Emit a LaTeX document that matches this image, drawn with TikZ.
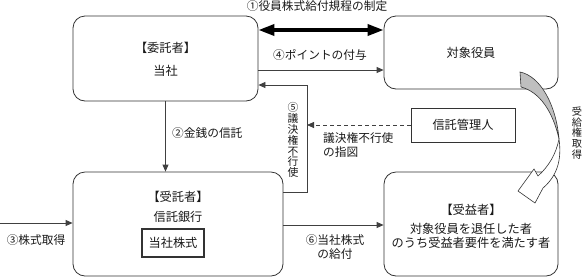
\documentclass[tikz,border=0pt]{standalone}
\usepackage{fontspec}
\setmainfont{Noto Sans CJK JP}
\usetikzlibrary{arrows.meta}
\begin{document}
\begin{tikzpicture}[x=1pt,y=-1pt,
  rbox/.style={draw=black!80, line width=0.8pt, rounded corners=12pt, fill=white, inner sep=0pt},
  pbox/.style={draw=black!80, line width=0.8pt, fill=white, inner sep=0pt},
  conn/.style={draw=black!75, line width=0.8pt, -{Triangle[length=7pt,width=6pt]}},
  bigconn/.style={draw=black, line width=3.5pt, {Triangle[length=16pt,width=11pt]}-{Triangle[length=16pt,width=11pt]}},
  txt/.style={font=\fontsize{12.2}{13.5}\selectfont, inner sep=0pt, text=black!90},
  lbl/.style={font=\fontsize{11.7}{14}\selectfont, inner sep=0pt, text=black!90},
  vtxt/.style={font=\fontsize{10.8}{10.9}\selectfont, inner sep=0pt, align=center, text=black!90}
]
\useasboundingbox (0,0) rectangle (583,277);

% boxes
\node[rbox, minimum width=185pt, minimum height=85pt] (itaku) at (165.5,58.5) {};
\node[rbox, minimum width=174pt, minimum height=73pt] (taisho) at (471,52.5) {};
\node[rbox, minimum width=210pt, minimum height=104pt] (jutaku) at (178,224) {};
\node[rbox, minimum width=174pt, minimum height=104pt] (jueki) at (471,224) {};
\node[pbox, minimum width=104pt, minimum height=34pt] (kanri) at (463,125) {};
\node[pbox, line width=1.3pt, minimum width=62pt, minimum height=28pt] (kabu) at (173,243) {};

% box texts
\node[txt] (t1a) at (165.5,48) {【委託者】};
\node[txt] (t1b) at (165.5,71) {当社};
\node[txt] (t2) at (471,53) {対象役員};
\node[txt] (t3a) at (178,197) {【受託者】};
\node[txt] (t3b) at (178,217) {信託銀行};
\node[txt] (t3c) at (kabu) {当社株式};
\node[txt] (t4a) at (471,210) {【受益者】};
\node[txt, align=center] (t4b) at (471,236) {対象役員を退任した者\\のうち受益者要件を満たす者};
\node[txt] (t5) at (kanri) {信託管理人};

% helper coordinates
\coordinate (r1) at (0,30);
\coordinate (r4) at (0,70);
\coordinate (k5) at (307,192);
\coordinate (k5t) at (307,85);
\coordinate (s3) at (0,223);
\coordinate (r6) at (0,225);

% connectors
\draw[bigconn] (itaku.east |- r1) -- (taisho.west |- r1);
\draw[conn] (itaku.east |- r4) -- (taisho.west |- r4);
\draw[conn] (jutaku.east |- k5) -- (k5) -- (k5t) -- (itaku.east |- k5t);
\draw[conn, dashed, dash pattern=on 4pt off 3pt] (kanri.west) -- (kanri.west -| k5);
\draw[conn] (itaku.south) -- (itaku.south |- jutaku.north);
\draw[conn] (s3) -- (s3 -| jutaku.west);
\draw[conn] (jutaku.east |- r6) -- (jueki.west |- r6);

% labels
\node[lbl] (l1) at (317,6) {①役員株式給付規程の制定};
\node[lbl] (l4) at (320,55) {④ポイントの付与};
\node[lbl, anchor=west] (l2) at (172,133) {②金銭の信託};
\node[vtxt] (l5) at (293,140) {⑤\\議\\決\\権\\不\\行\\使};
\node[lbl, anchor=west, align=left] (ld) at (323,145) {議決権不行使\\の指図};
\node[lbl] (l3) at (36,240) {③株式取得};
\node[lbl, align=center] (l6) at (335,247.5) {⑥当社株式\\の給付};
\node[vtxt, font=\fontsize{10.2}{10.6}\selectfont] (lr) at (577,133) {受\\給\\権\\取\\得};

% curved arrow (back part, grey)
\path[draw=black!80, line width=0.6pt, fill=black!25]
  (520,72) .. controls (540,76) and (556,104) .. (559,139)
  .. controls (553,112) and (540,92) .. (521,87) -- cycle;
% curved arrow (front part, white with head)
\path[draw=black!80, line width=0.6pt, fill=white]
  (559,139) .. controls (562,160) and (557,176) .. (543,188)
  -- (535,203) -- (518,191) -- (534,169) -- (538,176)
  .. controls (549,166) and (556,154) .. (559,139) -- cycle;
\end{tikzpicture}
\end{document}
